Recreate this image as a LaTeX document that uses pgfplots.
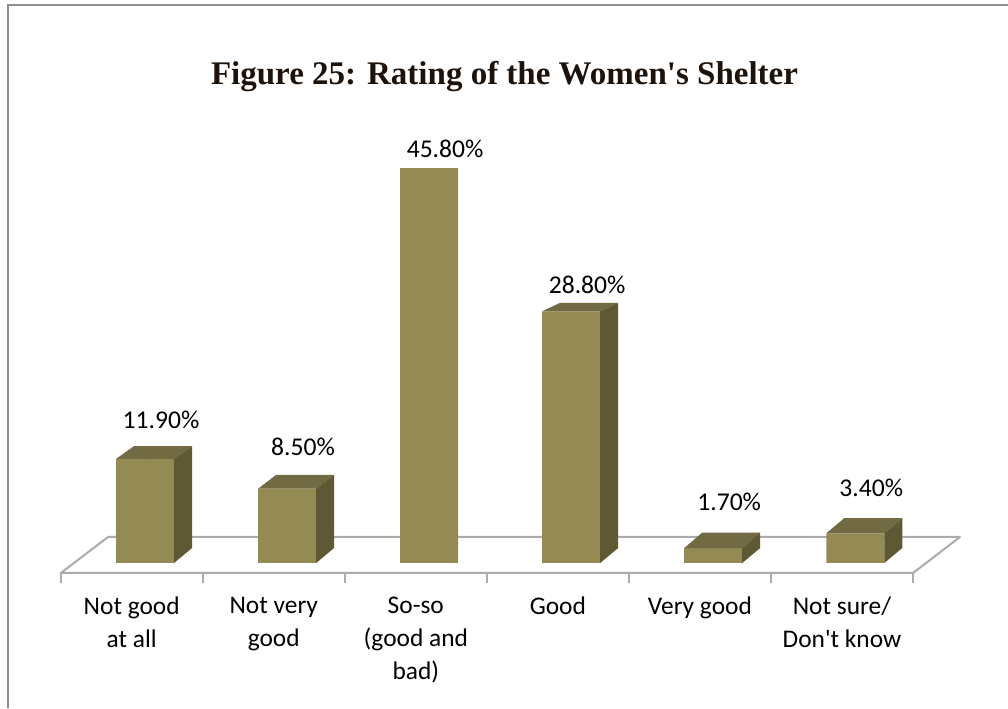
\documentclass[border=0pt]{standalone}
\usepackage{fontspec}
\setmainfont{Carlito}
\newfontfamily\titlefont{Liberation Serif}
\usepackage{pgfplots}
\usepackage{pgfplotstable}
\pgfplotsset{compat=1.18}
\definecolor{barfront}{HTML}{948A54}
\definecolor{bartop}{HTML}{716A42}
\definecolor{barside}{HTML}{5E5835}
\definecolor{floorgray}{HTML}{ABABAB}
\definecolor{framegray}{HTML}{8E8E8E}

% rating shares in percent, categories at 0..5
\pgfplotstableread{
x v
0 11.9
1 8.5
2 45.8
3 28.8
4 1.7
5 3.4
}\ratings

\begin{document}
\begin{tikzpicture}
\useasboundingbox (0,0) rectangle (504pt,354pt);
\draw[framegray, line width=1pt] (4pt,0pt) -- (4pt,351.5pt) -- (504pt,351.5pt);
\node[anchor=base, font=\titlefont\bfseries\fontsize{16.5}{20}\selectfont, text=black!85!brown] at (252.25pt,311.5pt) {Figure 25: Rating of the Women\textquotesingle s Shelter};

% bars with floor (clipped at the top like the original)
\begin{axis}[x=71.025pt, y=4.37pt, anchor=origin, at={(72.5pt,72.5pt)},
  xmin=-0.8, xmax=6.0, ymin=-3, ymax=45.19, enlargelimits=false,
  axis lines=none, clip=true, clip marker paths=true]
\fill[white] (axis cs:-0.593,-1.144) -- (axis cs:5.407,-1.144) -- (axis cs:5.737,2.975) -- (axis cs:-0.260,2.975) -- cycle;
\draw[floorgray, line width=1pt, line join=round] (axis cs:-0.593,-1.144) -- (axis cs:5.407,-1.144) -- (axis cs:5.737,2.975) -- (axis cs:-0.260,2.975) -- cycle;
\draw[floorgray, line width=1pt]
  (axis cs:-0.593,-1.144) -- ++(0pt,-5pt) (axis cs:0.407,-1.144) -- ++(0pt,-5pt)
  (axis cs:1.407,-1.144) -- ++(0pt,-5pt) (axis cs:2.407,-1.144) -- ++(0pt,-5pt)
  (axis cs:3.407,-1.144) -- ++(0pt,-5pt) (axis cs:4.407,-1.144) -- ++(0pt,-5pt)
  (axis cs:5.407,-1.144) -- ++(0pt,-5pt);
\addplot[ybar, bar width=29pt, fill=barfront, draw=none] table[x=x, y=v] {\ratings};
\addplot[scatter, only marks, mark=*, mark size=0pt, mark options={draw=none, fill=none},
  visualization depends on={\thisrow{v} \as \hv},
  scatter/@pre marker code/.code={
    \pgfmathsetmacro\hh{-\hv*4.37}
    \pgfmathsetmacro\dy{(16-0.03*\hv*8.74)*0.5}
    \pgfmathsetmacro\yb{7.5-\hv*4.37}
    \path[fill=bartop, draw=none] (-14.5pt,0pt) -- (14.5pt,0pt) -- (23.5pt,\dy pt) -- (-5.5pt,\dy pt) -- cycle;
    \path[fill=barside, draw=none] (14.5pt,0pt) -- (23.5pt,\dy pt) -- (23.5pt,\yb pt) -- (14.5pt,\hh pt) -- cycle;
  },
  scatter/@post marker code/.code={}] table[x=x, y=v] {\ratings};
\end{axis}

% value labels and category names
\begin{axis}[x=71.025pt, y=4.37pt, anchor=origin, at={(72.5pt,72.5pt)},
  xmin=-0.593, xmax=5.407, ymin=-1.144, ymax=50, enlargelimits=false,
  clip=false, axis x line=bottom, axis y line=none, x axis line style={draw=none},
  major tick length=0pt, ytick=\empty,
  xtick={-0.0936,0.9064,1.9064,2.9064,3.9064,4.9064},
  xticklabels={Not good\\at all, Not very\\good, So-so\\(good and\\bad), Good, Very good, Not sure/\\Don\textquotesingle t know},
  xticklabel style={font=\fontsize{12.7}{16.6}\selectfont, align=center, yshift=-8.5pt},
  /pgf/number format/assume math mode=true]
\addplot[only marks, mark=*, mark size=0pt, mark options={draw=none, fill=none},
  visualization depends on={\thisrow{v} \as \hv},
  nodes near coords={\pgfmathprintnumber[fixed, fixed zerofill, precision=2]{\pgfplotspointmeta}\%},
  every node near coord/.append style={anchor=center, text=black, font=\fontsize{12.8}{15}\selectfont,
    xshift=8pt, yshift={(24-0.3715*\hv)*1pt}}] table[x=x, y=v] {\ratings};
\end{axis}
\end{tikzpicture}
\end{document}
